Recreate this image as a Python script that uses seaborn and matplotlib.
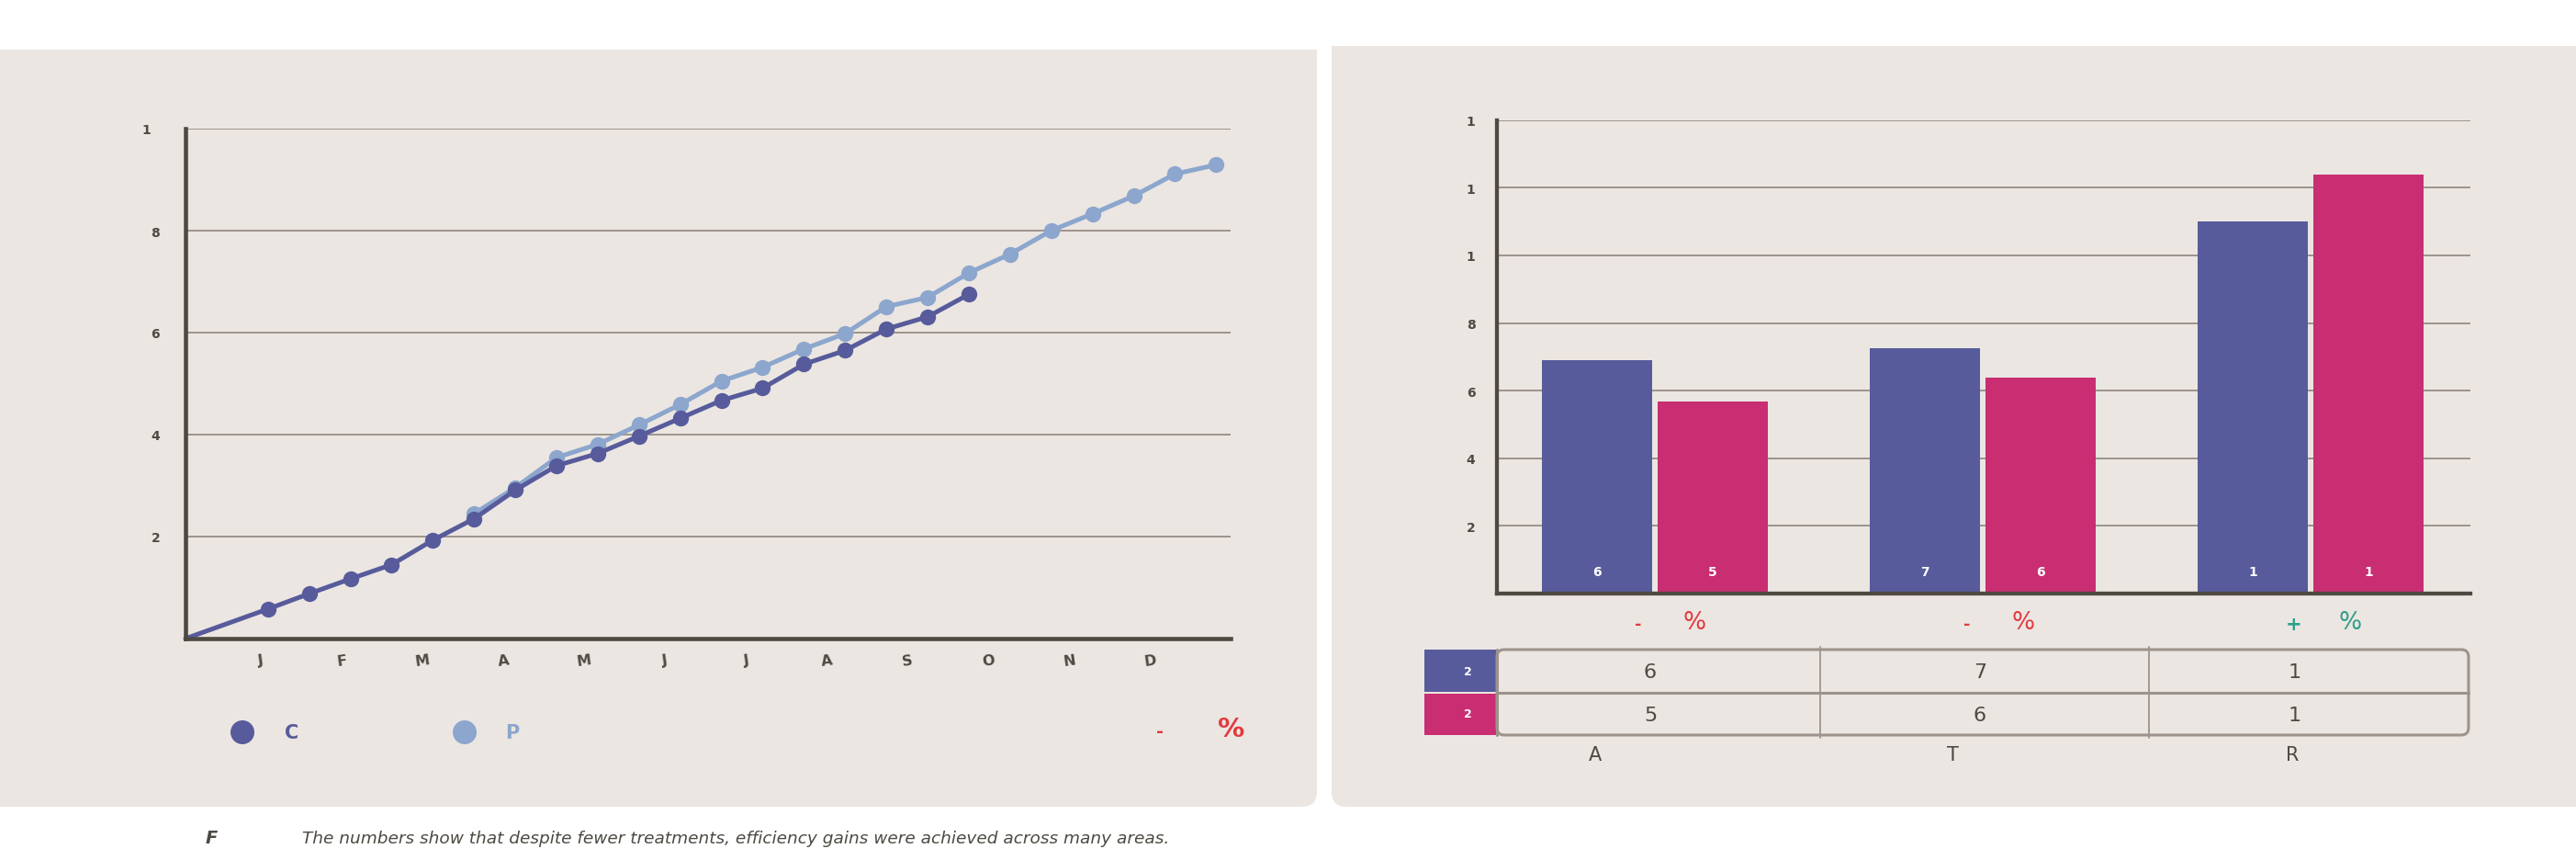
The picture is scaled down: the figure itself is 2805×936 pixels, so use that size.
import numpy as np
import pandas as pd
import matplotlib
matplotlib.use("Agg")
import matplotlib.pyplot as plt
import seaborn as sns
from matplotlib.patches import FancyBboxPatch, Rectangle, Circle
from matplotlib import font_manager

# ---------------- data ----------------
months = ["J", "F", "M", "A", "M", "J", "J", "A", "S", "O", "N", "D"]

c_period = [0, 2, 3, 4, 5, 6, 7, 8, 9, 10, 11, 12, 13, 14, 15, 16, 17, 18, 19]
c_values = [0.0, 0.58, 0.88, 1.17, 1.45, 1.93, 2.35, 2.91, 3.39, 3.63, 3.97,
            4.32, 4.67, 4.91, 5.38, 5.65, 6.07, 6.31, 6.75]
p_period = [7, 8, 9, 10, 11, 12, 13, 14, 15, 16, 17, 18, 19, 20, 21, 22, 23, 24, 25]
p_values = [2.45, 2.96, 3.55, 3.81, 4.19, 4.59, 5.05, 5.32, 5.68, 5.98, 6.51,
            6.69, 7.17, 7.54, 8.00, 8.33, 8.68, 9.11, 9.29]
line_yticks = [0, 2, 4, 6, 8, 10]
line_yticklabels = ["", "2", "4", "6", "8", "1"]
line_legend = ["C", "P"]
line_change = ["-", "%"]

bar_categories = ["A", "T", "R"]
bar_series = ["prev", "curr"]
bar_series_labels = ["2", "2"]
bar_prev = [6.90, 7.25, 11.00]
bar_curr = [5.68, 6.38, 12.38]
bar_prev_labels = ["6", "7", "1"]
bar_curr_labels = ["5", "6", "1"]
bar_yticks = [0, 2, 4, 6, 8, 10, 12, 14]
bar_yticklabels = ["", "2", "4", "6", "8", "1", "1", "1"]
bar_change_sign = ["-", "-", "+"]

caption_label = "F"
caption_text = "The numbers show that despite fewer treatments, efficiency gains were achieved across many areas."

# ---------------- style ----------------
BG = "#ebe6e2"
GRID = "#9d938c"
AXC = "#4e4a41"
TXT = "#4d4a42"
C_COL = "#575b9b"
P_COL = "#8ca6cd"
PINK = "#c92d72"
RED = "#e23a3f"
TEAL = "#2e9f8a"

sns.set_style("white")
names = {f.name for f in font_manager.fontManager.ttflist}
NARROW = "Liberation Sans Narrow" if "Liberation Sans Narrow" in names else "DejaVu Sans"
narrow_ok = NARROW != "DejaVu Sans"
plt.rcParams["font.family"] = [NARROW, "DejaVu Sans"]

W, H = 2805, 937
fig = plt.figure(figsize=(W / 100, H / 100), dpi=100)
fig.patch.set_facecolor("white")

bg = fig.add_axes([0, 0, 1, 1], zorder=0)
bg.set_xlim(0, W)
bg.set_ylim(H, 0)
bg.axis("off")

def panel(x0, y0, x1, y1):
    bg.add_patch(FancyBboxPatch((x0, y0), x1 - x0, y1 - y0,
                                boxstyle="round,pad=0,rounding_size=16",
                                fc=BG, ec="none"))
    bg.add_patch(Rectangle((x0, y0), x1 - x0, 40, fc=BG, ec="none"))

panel(-30, 55, 1434, 879)
panel(1450, 51, W + 40, 879)

def fx(px):
    return px / W

def fy(py):
    return 1 - py / H

# ---------------- line chart ----------------
L, R, T, B = 202, 1340, 141, 696
ax1 = fig.add_axes([fx(L), fy(B), fx(R - L), (B - T) / H], zorder=2)
ax1.set_facecolor("none")

df_p = pd.DataFrame({"period": p_period, "value": p_values})
df_c = pd.DataFrame({"period": c_period, "value": c_values})
sns.lineplot(data=df_p, x="period", y="value", ax=ax1, color=P_COL, lw=3.6,
             marker="o", markersize=12.5, markeredgewidth=0, clip_on=False)
sns.lineplot(data=df_c, x="period", y="value", ax=ax1, color=C_COL, lw=3.6,
             marker="o", markersize=12.5, markeredgewidth=0, clip_on=False,
             markevery=list(range(1, len(c_period))))

ax1.set_xlim(0, 25.35)
ax1.set_ylim(0, 10)
ax1.set_xticks(np.linspace(1.83, 23.4, len(months)))
ax1.set_xticklabels(months, fontsize=11.5, color=TXT, rotation=8, fontweight="bold")
ax1.set_yticks(line_yticks)
ax1.set_yticklabels([s + ("  " if s == "1" else "") for s in line_yticklabels],
                    fontsize=10, fontweight="bold", color=TXT)
ax1.tick_params(axis="x", length=0, pad=11)
ax1.tick_params(axis="y", length=0, pad=20)
ax1.set_xlabel("")
ax1.set_ylabel("")
ax1.set_axisbelow(True)
ax1.yaxis.grid(True, color=GRID, lw=1.4)
ax1.xaxis.grid(False)
for s in ["top", "right"]:
    ax1.spines[s].set_visible(False)
for s in ["left", "bottom"]:
    ax1.spines[s].set_color(AXC)
    ax1.spines[s].set_linewidth(3.3)
    ax1.spines[s].set_zorder(5)

# legend of line chart
bg.add_patch(Circle((264, 798), 13, fc=C_COL, ec="none"))
bg.add_patch(Circle((506, 798), 13, fc=P_COL, ec="none"))
bg.text(318, 798, line_legend[0], color=C_COL, fontsize=15, fontweight="bold",
        ha="center", va="center")
bg.text(558, 798, line_legend[1], color=P_COL, fontsize=15, fontweight="bold",
        ha="center", va="center")
bg.text(1263, 797, line_change[0], color=RED, fontsize=14, fontweight="bold",
        ha="center", va="center")
bg.text(1341, 794, line_change[1], color=RED, fontsize=21, fontweight="bold",
        ha="center", va="center")

# ---------------- bar chart ----------------
L2, R2, T2, B2 = 1630, 2690, 131.8, 646.8
ax2 = fig.add_axes([fx(L2), fy(B2), fx(R2 - L2), (B2 - T2) / H], zorder=2)
ax2.set_facecolor("none")

df_b = pd.DataFrame({
    "category": bar_categories * 2,
    "series": [bar_series[0]] * 3 + [bar_series[1]] * 3,
    "value": bar_prev + bar_curr,
})
sns.barplot(data=df_b, x="category", y="value", hue="series",
            hue_order=bar_series, order=bar_categories,
            palette=[C_COL, PINK], saturation=1, width=0.706, gap=0.048,
            legend=False, linewidth=0, edgecolor="none", ax=ax2)
ax2.set_xlim(-0.482, 2.487)
ax2.set_ylim(0, 14)
ax2.set_yticks(bar_yticks)
ax2.set_yticklabels(bar_yticklabels, fontsize=10, fontweight="bold", color=TXT)
ax2.tick_params(axis="y", length=0, pad=17)
ax2.set_xticks([])
ax2.set_xlabel("")
ax2.set_ylabel("")
ax2.set_axisbelow(True)
ax2.yaxis.grid(True, color=GRID, lw=1.4)
for s in ["top", "right"]:
    ax2.spines[s].set_visible(False)
for s in ["left", "bottom"]:
    ax2.spines[s].set_color(AXC)
    ax2.spines[s].set_linewidth(3.1)
    ax2.spines[s].set_zorder(5)

for cont, labels in zip(ax2.containers, [bar_prev_labels, bar_curr_labels]):
    for bar, lab in zip(cont, labels):
        ax2.text(bar.get_x() + bar.get_width() / 2, 0.66, lab, color="white",
                 fontsize=10, fontweight="bold", ha="center", va="center")

# change row
group_x = [1802, 2160, 2516]
for gx, sign in zip(group_x, bar_change_sign):
    col = TEAL if sign == "+" else RED
    bg.text(gx - 18, 680, sign, color=col, fontsize=15 if sign == "+" else 13,
            fontweight="bold", ha="center", va="center")
    bg.text(gx + 43, 678, "%", color=col, fontsize=19, ha="center", va="center")

# table
TT, TM, TB = 708, 754.5, 801
bg.add_patch(Rectangle((1551, TT), 1630 - 1551, TM - TT - 1, fc=C_COL, ec="none"))
bg.add_patch(Rectangle((1551, TM + 1), 1630 - 1551, TB - TM - 1, fc=PINK, ec="none"))
for yy, lab in zip([(TT + TM) / 2, (TM + TB) / 2], bar_series_labels):
    bg.text(1598, yy, lab, color="white", fontsize=9, fontweight="bold",
            ha="center", va="center")
bg.add_patch(FancyBboxPatch((1630, TT), 2688 - 1630, TB - TT,
                            boxstyle="round,pad=0,rounding_size=8",
                            fc="none", ec=GRID, lw=2.2))
bg.plot([1630, 1630], [TT, TB], color=GRID, lw=2.2)
bg.plot([1630, 2688], [TM, TM], color=GRID, lw=2.2)
for vx in [1982, 2340]:
    bg.plot([vx, vx], [TT - 3, TB + 3], color=GRID, lw=1.3)
num_x = [1797, 2156, 2499]
for xx, a, b in zip(num_x, bar_prev_labels, bar_curr_labels):
    bg.text(xx, (TT + TM) / 2 + 1, a, color=TXT, fontsize=16, ha="center", va="center")
    bg.text(xx, (TM + TB) / 2 + 1, b, color=TXT, fontsize=16, ha="center", va="center")
cat_x = [1737, 2126, 2496]
for xx, lab in zip(cat_x, bar_categories):
    bg.text(xx, 822, lab, color=TXT, fontsize=15, ha="center", va="center")

# caption
bg.text(230, 913, caption_label, color=TXT, fontsize=14, fontweight="bold",
        fontstyle="italic", ha="center", va="center")
bg.text(329, 913, caption_text, color=TXT, fontsize=15 if narrow_ok else 13.3,
        fontstyle="italic", ha="left", va="center")

fig.savefig("out.png", dpi=100, facecolor="white")
